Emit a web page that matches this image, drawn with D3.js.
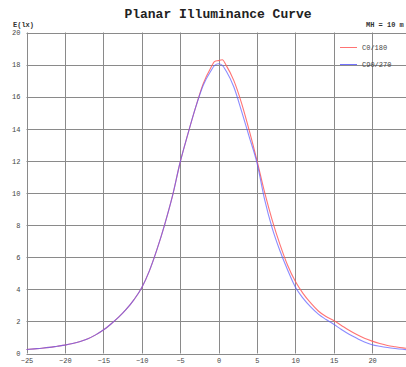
<!DOCTYPE html>
<html><head><meta charset="utf-8">
<script src="https://cdn.jsdelivr.net/npm/d3@7"></script>
<style>html,body{margin:0;padding:0;background:#fff;}svg{display:block;}</style>
</head><body>
<svg id="c" width="406" height="367"></svg>
<script>
const title = "Planar Illuminance Curve";
const yLabel = "E(lx)";
const mhLabel = "MH = 10 m";
const seriesNames = ["C0/180", "C90/270"];
const xValues = [-25,-24,-23,-22,-21,-20,-19,-18,-17,-16,-15,-14,-13,-12,-11,-10,-9,-8,-7,-6,-5,-4,-3,-2,-1,-0.5,0,0.5,1,2,3,4,5,6,7,8,9,10,11,12,13,14,15,16,17,18,19,20,21,22,23,24,25];
const c0Values = [0.25,0.29,0.33,0.38,0.45,0.52,0.62,0.75,0.92,1.16,1.46,1.84,2.26,2.76,3.36,4.1,5.15,6.5,8.05,9.8,11.9,13.65,15.3,16.8,17.8,18.2,18.25,18.3,17.95,17.0,15.6,13.9,12.05,10.05,8.3,6.8,5.5,4.5,3.75,3.15,2.65,2.3,2.05,1.75,1.45,1.18,0.95,0.77,0.62,0.5,0.42,0.35,0.3];
const c90Values = [0.25,0.29,0.33,0.38,0.45,0.52,0.62,0.75,0.92,1.16,1.46,1.84,2.26,2.76,3.36,4.1,5.15,6.5,8.05,9.8,11.9,13.65,15.3,16.7,17.6,17.95,18.05,17.95,17.6,16.6,15.1,13.5,11.9,9.6,7.8,6.4,5.2,4.15,3.45,2.9,2.45,2.12,1.82,1.5,1.2,0.95,0.72,0.55,0.45,0.37,0.31,0.26,0.22];
const xTicks = [-25,-20,-15,-10,-5,0,5,10,15,20];
const yTicks = [0,2,4,6,8,10,12,14,16,18,20];

const svg = d3.select("#c");
const font = "'Liberation Mono', 'DejaVu Sans Mono', monospace";
const x = d3.scaleLinear().domain([-25,25]).range([26.5,410.5]);
const y = d3.scaleLinear().domain([0,20]).range([353.5,32.5]);

// grid
const g = svg.append("g");
g.selectAll("line.v").data(d3.range(-25,26,5)).enter().append("line")
  .attr("x1",d=>Math.round(x(d))+0.5).attr("x2",d=>Math.round(x(d))+0.5)
  .attr("y1",y(20)).attr("y2",y(0)).attr("stroke","#8a8a8a").attr("stroke-width",1);
g.selectAll("line.h").data(yTicks).enter().append("line")
  .attr("x1",x(-25)).attr("x2",x(25))
  .attr("y1",d=>Math.round(y(d))+0.5).attr("y2",d=>Math.round(y(d))+0.5)
  .attr("stroke","#8a8a8a").attr("stroke-width",1);

// axes labels
const yAxis = d3.axisLeft(y).tickValues(yTicks).tickSize(0).tickPadding(6);
const ya = svg.append("g").attr("transform",`translate(${x(-25)},0)`).call(yAxis);
ya.select(".domain").remove();
ya.selectAll("text").attr("font-family",font).attr("font-size",7).attr("fill","#444");
const xAxis = d3.axisBottom(x).tickValues(xTicks).tickSize(0).tickPadding(5);
const xa = svg.append("g").attr("transform",`translate(0,${y(0)})`).call(xAxis);
xa.select(".domain").remove();
xa.selectAll("text").attr("font-family",font).attr("font-size",7).attr("fill","#444");

// lines
const line = d3.line().x((d,i)=>x(xValues[i])).y(d=>y(d)).curve(d3.curveMonotoneX);
svg.append("path").attr("d",line(c0Values)).attr("fill","none").attr("stroke","#ff5a5a").attr("stroke-opacity",0.85).attr("stroke-width",1.1);
svg.append("path").attr("d",line(c90Values)).attr("fill","none").attr("stroke","#5a5aff").attr("stroke-opacity",0.7).attr("stroke-width",1.1);

// texts
svg.append("text").attr("x",218).attr("y",18).attr("text-anchor","middle")
  .attr("font-family",font).attr("font-size",13).attr("font-weight","bold").attr("fill","#222").text(title);
svg.append("text").attr("x",13).attr("y",27).attr("font-family",font).attr("font-size",7).attr("font-weight","bold").attr("fill","#333").text(yLabel);
svg.append("text").attr("x",366).attr("y",27).attr("font-family",font).attr("font-size",7).attr("font-weight","bold").attr("fill","#333").text(mhLabel);

// legend
const colors = ["#ff5a5a","#5a5aff"];
const ly = [47,64];
seriesNames.forEach((n,i)=>{
  svg.append("line").attr("x1",340).attr("x2",357).attr("y1",ly[i]+0.5).attr("y2",ly[i]+0.5).attr("stroke",colors[i]).attr("stroke-opacity",0.85);
  svg.append("text").attr("x",362).attr("y",ly[i]+2.5).attr("font-family",font).attr("font-size",7).attr("fill","#444").text(n);
});
</script>
</body></html>
